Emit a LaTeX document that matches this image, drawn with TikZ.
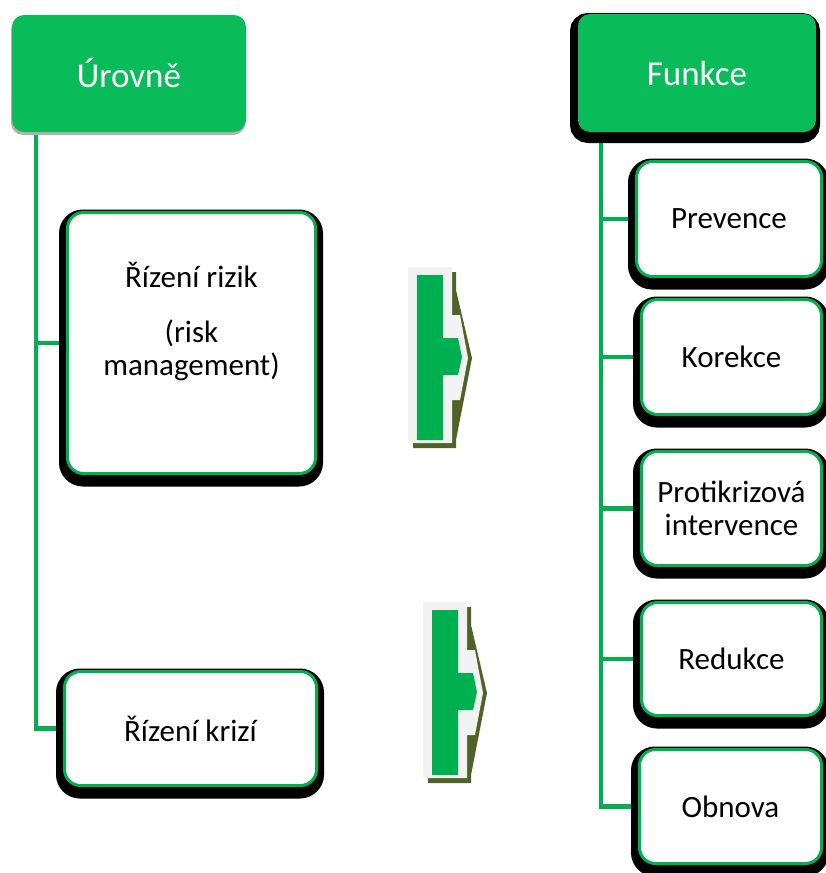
\documentclass[tikz,border=0pt]{standalone}
\usepackage{fontspec}
\setmainfont{Carlito}
\usetikzlibrary{shadows,backgrounds}
\definecolor{leafgreen}{RGB}{0,176,80}
\definecolor{headgreen}{RGB}{10,187,90}
\definecolor{olive}{RGB}{79,98,40}
\definecolor{paper}{RGB}{242,242,242}

\begin{document}
\begin{tikzpicture}[x=1pt,y=-1pt,
  every node/.style={font=\fontsize{31}{33}\selectfont},
  head/.style={fill=headgreen,rounded corners=12pt,text=white,font=\fontsize{35}{38}\selectfont,
    minimum width=234pt,minimum height=117pt},
  leaf/.style={draw=leafgreen,line width=3pt,fill=white,rounded corners=16pt,align=center,inner sep=3pt,
    general shadow={fill=black,draw=black,line width=16pt,shadow xshift=-0.5pt,shadow yshift=-5pt}},
  branch/.style={draw=leafgreen,line width=4.5pt}]
\useasboundingbox (0,0) rectangle (826,873);

% headings
\node[head,general shadow={fill=black!30,shadow xshift=-1pt,shadow yshift=-3pt}] (urov) at (129,73.5) {Úrovně};
\node[head,minimum width=238pt,minimum height=118pt,
  general shadow={fill=black,draw=black,line width=12pt,shadow xshift=-2pt,shadow yshift=-5pt}] (funk) at (697,73) {Funkce};

% left column
\node[leaf,minimum width=248pt,minimum height=261pt] (risk) at (191.5,343) {Řízení rizik\\[22pt](risk\\management)\\[15pt]~};
\node[leaf,minimum width=252pt,minimum height=114pt] (kriz) at (190.5,728.5) {Řízení krizí};

% right column
\node[leaf,minimum width=185pt,minimum height=115pt] (prev) at (729,219) {Prevence};
\node[leaf,minimum width=180pt,minimum height=115pt] (kore) at (731.5,357) {Korekce};
\node[leaf,minimum width=180pt,minimum height=114pt] (prot) at (731.5,508.5) {Protikrizová\\intervence};
\node[leaf,minimum width=180pt,minimum height=113pt] (redu) at (731.5,659) {Redukce};
\node[leaf,minimum width=182pt,minimum height=114pt] (obno) at (730.5,806.5) {Obnova};

% tree lines
\begin{scope}[on background layer]
\coordinate (ltrunk) at (36,132);
\draw[branch] (ltrunk) |- (kriz.west);
\draw[branch] (ltrunk |- risk.west) -- (risk.west);
\coordinate (rtrunk) at (601,132);
\draw[branch] (rtrunk) |- (obno.west);
\foreach \n in {prev,kore,prot,redu}
  \draw[branch] (rtrunk |- \n.west) -- (\n.west);
\end{scope}

% block arrows
\foreach \ax/\ay in {408/267,423/602}{
  \begin{scope}[shift={(\ax,\ay)}]
  \fill[olive] (5,5) -- (48,5) -- (48,23) -- (64,91) -- (48,173) -- (48,181) -- (5,181) -- cycle;
  \fill[paper] (0,0) -- (44,0) -- (44,48) -- (52,48) -- (60,91) -- (52,133) -- (44,133) -- (44,176) -- (0,176) -- cycle;
  \fill[leafgreen] (9,8) -- (35,8) -- (35,71) -- (50,71) -- (54,90) -- (50,108) -- (35,108) -- (35,173) -- (9,173) -- cycle;
  \end{scope}
}
\end{tikzpicture}
\end{document}
